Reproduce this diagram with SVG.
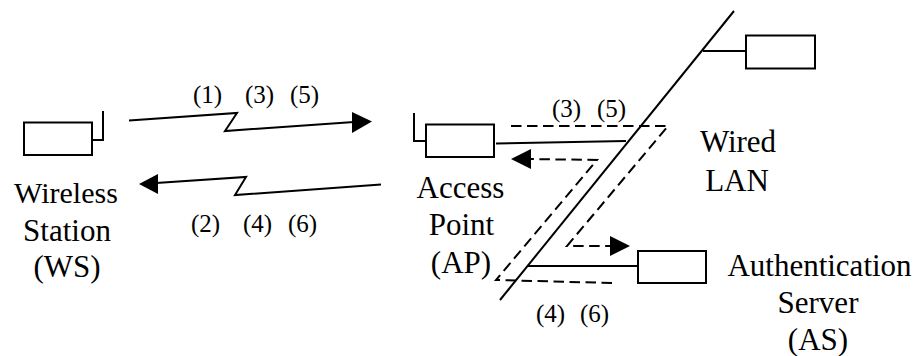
<svg xmlns="http://www.w3.org/2000/svg" width="914" height="356" viewBox="0 0 914 356">
<style>
.n{fill:#fff;stroke:#000;stroke-width:2}
.l{fill:none;stroke:#000;stroke-width:2}
.d{fill:none;stroke:#000;stroke-width:2;stroke-dasharray:10.500 5.500}
.a{fill:#000;stroke:none}
text{font-family:"Liberation Serif","Times New Roman",serif;fill:#000}
.b{font-size:31px;text-anchor:middle}
.s{font-size:25px}
</style>
<rect width="914" height="356" fill="#fff"/>
<g id="connectors">
<path class="l" d="M129 120.500L237 113L225 131L354 122"/>
<polygon class="a" points="372,121.500 352,112 352,133"/>
<path class="l" d="M381 184.500L235 195L246 177L156 183"/>
<polygon class="a" points="139,184 158,174 158,194"/>
<path class="l" d="M734 11L500 300"/>
<path class="l" d="M703 51H746"/>
<path class="l" d="M496 143.500L626 141"/>
<path class="l" d="M528 266H638"/>
<path class="d" d="M511 126H668L567 246H612"/>
<polygon class="a" points="630,246 610,236 610,256"/>
<path class="d" d="M612 283L496 280L597 160L529 159"/>
<polygon class="a" points="511,159 531,149 531,169"/>
</g>
<g id="wireless-station">
<rect class="n" x="24" y="122.500" width="68" height="32.500"/>
<path class="l" d="M91 140H103V111"/>
<text class="b" x="66" y="203" style="font-size:30px">Wireless</text>
<text class="b" x="67" y="241">Station</text>
<text class="b" x="67" y="277">(WS)</text>
</g>
<g id="access-point">
<rect class="n" x="426" y="124.500" width="68" height="32.500"/>
<path class="l" d="M426 141H414V113"/>
<text class="b" x="460.500" y="198">Access</text>
<text class="b" x="461.500" y="235">Point</text>
<text class="b" x="461" y="273">(AP)</text>
</g>
<g id="lan-host">
<rect class="n" x="746" y="35.500" width="69" height="33"/>
</g>
<g id="authentication-server">
<rect class="n" x="638" y="251" width="68" height="32"/>
<text class="b" x="819.500" y="276">Authentication</text>
<text class="b" x="818" y="313">Server</text>
<text class="b" x="818" y="350">(AS)</text>
</g>
<g id="wired-lan">
<text class="b" x="738" y="152">Wired</text>
<text class="b" x="737" y="191">LAN</text>
</g>
<g id="labels">
<text class="s" x="193" y="103">(1)</text>
<text class="s" x="245" y="103">(3)</text>
<text class="s" x="290" y="103">(5)</text>
<text class="s" x="191" y="232">(2)</text>
<text class="s" x="243" y="232">(4)</text>
<text class="s" x="288" y="232">(6)</text>
<text class="s" x="552" y="117">(3)</text>
<text class="s" x="597" y="117">(5)</text>
<text class="s" x="536" y="322">(4)</text>
<text class="s" x="580" y="322">(6)</text>
</g>
</svg>
